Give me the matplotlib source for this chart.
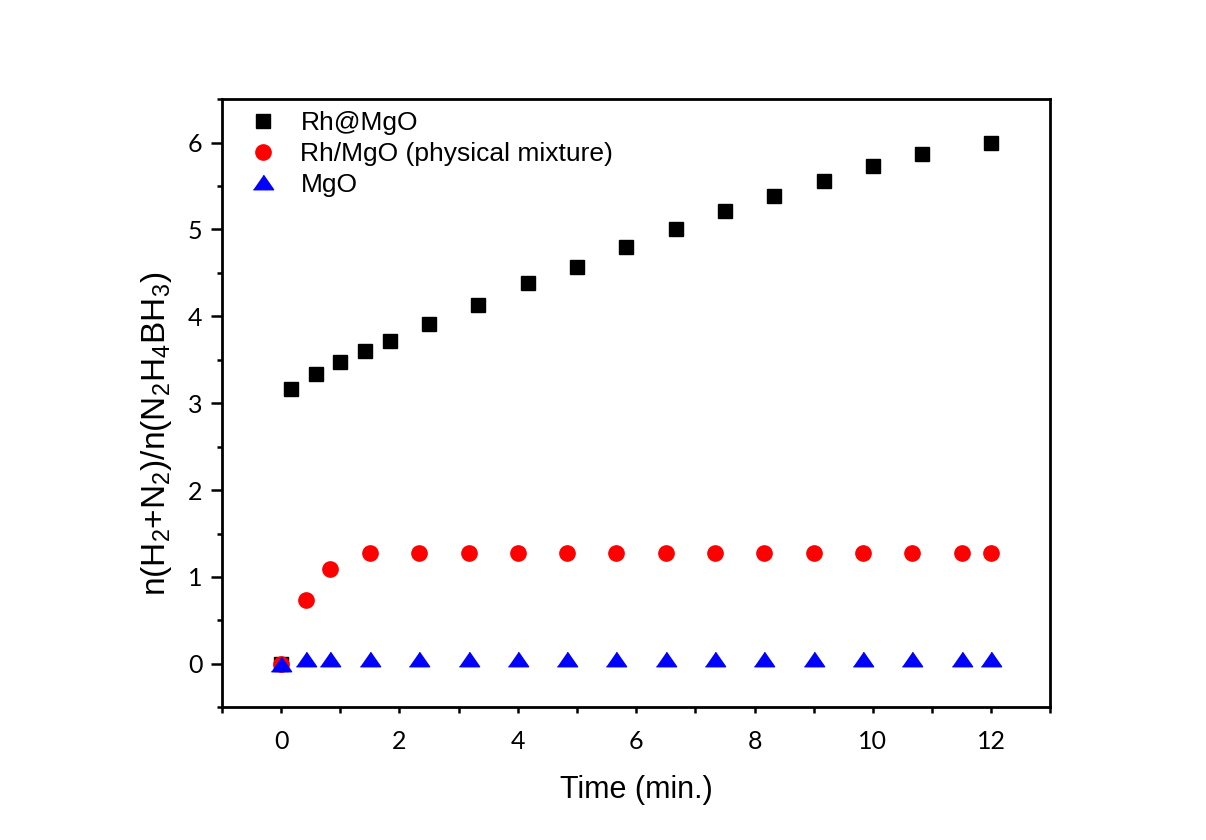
import matplotlib
matplotlib.use("Agg")
import matplotlib.pyplot as plt
from matplotlib.ticker import MultipleLocator

# データ
t_rh_mgo = [0, 0.167, 0.583, 1.0, 1.417, 1.833, 2.5, 3.333, 4.167, 5.0, 5.833,
            6.667, 7.5, 8.333, 9.167, 10.0, 10.833, 12.0]
y_rh_mgo = [0, 3.16, 3.34, 3.47, 3.60, 3.72, 3.91, 4.13, 4.38, 4.57, 4.80,
            5.00, 5.21, 5.38, 5.56, 5.73, 5.87, 6.00]

t_mix = [0, 0.417, 0.833, 1.5, 2.333, 3.167, 4.0, 4.833, 5.667, 6.5, 7.333,
         8.167, 9.0, 9.833, 10.667, 11.5, 12.0]
y_mix = [0, 0.74, 1.09, 1.28, 1.28, 1.28, 1.28, 1.28, 1.28, 1.28, 1.28,
         1.28, 1.28, 1.28, 1.28, 1.28, 1.28]

t_mgo = [0, 0.417, 0.833, 1.5, 2.333, 3.167, 4.0, 4.833, 5.667, 6.5, 7.333,
         8.167, 9.0, 9.833, 10.667, 11.5, 12.0]
y_mgo = [0, 0.06, 0.06, 0.06, 0.06, 0.06, 0.06, 0.06, 0.06, 0.06, 0.06,
         0.06, 0.06, 0.06, 0.06, 0.06, 0.06]

labels = ["Rh@MgO", "Rh/MgO (physical mixture)", "MgO"]

plt.rcParams["font.family"] = ["Liberation Sans", "DejaVu Sans"]
plt.rcParams["mathtext.default"] = "regular"

fig = plt.figure(figsize=(12.06, 8.4), dpi=100)
ax = fig.add_axes([0.184, 0.158, 0.687, 0.724])

# 幅広の三角形マーカー
tri = [(-1, -0.72), (1, -0.72), (0, 0.72)]

ax.plot(t_rh_mgo, y_rh_mgo, ls="none", marker="s", ms=10, color="black", label=labels[0])
ax.plot(t_mix, y_mix, ls="none", marker="o", ms=11, color="#ff0000", label=labels[1])
ax.plot(t_mgo, y_mgo, ls="none", marker=tri, ms=14.5, color="#0000ff", label=labels[2])

ax.set_xlim(-1, 13)
ax.set_ylim(-0.5, 6.5)
ax.xaxis.set_major_locator(MultipleLocator(2))
ax.xaxis.set_minor_locator(MultipleLocator(1))
ax.yaxis.set_major_locator(MultipleLocator(1))
ax.yaxis.set_minor_locator(MultipleLocator(0.5))

for s in ax.spines.values():
    s.set_linewidth(2.0)
ax.tick_params(axis="x", which="both", direction="out", length=4.5, width=1.8)
ax.tick_params(axis="x", which="major", labelsize=18, pad=12)
ax.tick_params(axis="y", which="major", direction="out", length=8, width=1.8,
               labelsize=18, pad=6)
ax.tick_params(axis="y", which="minor", direction="out", length=3.6, width=1.8)
for lab in ax.get_xticklabels() + ax.get_yticklabels():
    lab.set_family(["Lato", "DejaVu Sans"])

ax.set_xlabel("Time (min.)", fontsize=22, labelpad=16)
ax.set_ylabel("n(H$_2$+N$_2$)/n(N$_2$H$_4$BH$_3$)", fontsize=24)
ax.yaxis.set_label_coords(-0.058, 0.45)

ax.legend(loc="upper left", frameon=False, fontsize=19,
          borderaxespad=0, borderpad=0.35, handlelength=1.15, handletextpad=0.85,
          labelspacing=0.25)
leg = ax.get_legend()
leg.set_bbox_to_anchor((0.02, 0.995), transform=ax.transAxes)

fig.savefig("out.png", dpi=100, facecolor="white")
